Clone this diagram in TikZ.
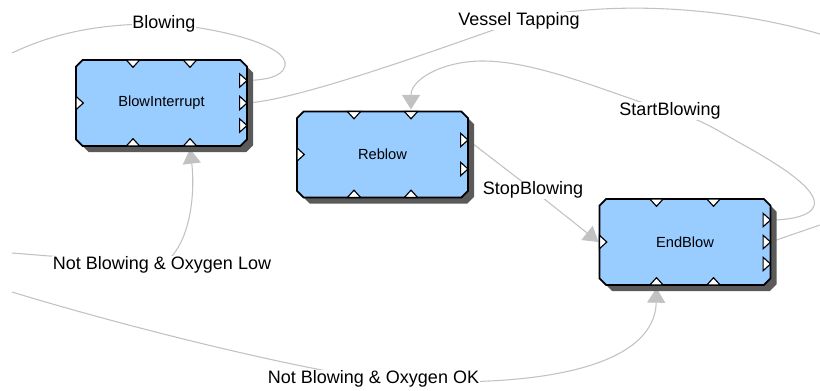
\documentclass[tikz,border=0pt]{standalone}
\usepackage{fontspec}
\setmainfont{Liberation Sans}
\usetikzlibrary{shapes.misc,shadows,calc,arrows.meta}
\definecolor{boxblue}{HTML}{99CCFF}
\definecolor{conn}{HTML}{C2C2C2}
\definecolor{shadowgray}{HTML}{5A5A5A}
\pgfdeclarelayer{back}
\pgfdeclarelayer{wires}
\pgfsetlayers{back,wires,main}
\tikzset{
  stbox/.style={chamfered rectangle, chamfered rectangle xsep=2.5pt,
    chamfered rectangle ysep=2.5pt, draw=black, line width=1.35pt,
    fill=boxblue, minimum width=128.25pt, minimum height=64.5pt,
    inner sep=0pt, outer sep=0pt, font=\fontsize{11}{13}\selectfont,
    drop shadow={shadow xshift=4.5pt, shadow yshift=-4.5pt,
      fill=shadowgray, opacity=1}},
  lbl/.style={fill=white, inner sep=0.6pt, font=\fontsize{13.5}{16}\selectfont},
  wire/.style={draw=conn, line width=0.8pt},
  arr/.style={-{Triangle[length=11pt,width=13.5pt,fill=conn]}, draw=conn, line width=0.8pt},
  portst/.style={fill=white, draw=black, line width=0.85pt, line join=miter},
  ptop/.pic={\path[portst] (-5pt,0pt) -- (0pt,-5.5pt) -- (5pt,0pt) -- cycle;},
  pbot/.pic={\path[portst] (-5pt,0pt) -- (0pt,5.5pt) -- (5pt,0pt) -- cycle;},
  pleft/.pic={\path[portst] (0pt,-5pt) -- (5.5pt,0pt) -- (0pt,5pt) -- cycle;},
  pright/.pic={\path[portst] (-5.5pt,-5pt) -- (0pt,0pt) -- (-5.5pt,5pt) -- cycle;}
}
\begin{document}
\begin{tikzpicture}[x=0.75pt,y=-0.75pt]
\useasboundingbox (0,0) rectangle (820,390);
\begin{pgfonlayer}{back}
  \fill[white] (0,0) rectangle (820,390);
\end{pgfonlayer}

% state boxes
\node[stbox] (bi) at (161.5,103) {BlowInterrupt};
\node[stbox] (rb) at (382.5,154.5) {Reblow};
\node[stbox] (eb) at (685,242) {EndBlow};

% ports
\foreach \b in {bi, rb, eb}{
  \pic at ($(\b.north)+(-28.5,0)$) {ptop};
  \pic at ($(\b.north)+(28.5,0)$) {ptop};
  \pic at ($(\b.south)+(-28.5,0)$) {pbot};
  \pic at ($(\b.south)+(28.5,0)$) {pbot};
  \pic at (\b.west) {pleft};
}
\pic at ($(bi.east)+(0,-22.5)$) {pright};
\pic at (bi.east) {pright};
\pic at ($(bi.east)+(0,22.5)$) {pright};
\pic at ($(rb.east)+(0,-14.5)$) {pright};
\pic at ($(rb.east)+(0,14.5)$) {pright};
\pic at ($(eb.east)+(0,-22)$) {pright};
\pic at (eb.east) {pright};
\pic at ($(eb.east)+(0,22)$) {pright};

% port coordinates
\coordinate (biR1) at ($(bi.east)+(0,-22.5)$);
\coordinate (biR2) at (bi.east);
\coordinate (biB2) at ($(bi.south)+(28.5,3)$);
\coordinate (rbT2) at ($(rb.north)+(28.5,-2)$);
\coordinate (rbR1) at ($(rb.east)+(0,-14.5)$);
\coordinate (ebL) at ($(eb.west)+(-1,0)$);
\coordinate (ebR1) at ($(eb.east)+(0,-22)$);
\coordinate (ebR2) at (eb.east);
\coordinate (ebB1) at ($(eb.south)+(-28.5,3)$);

% free ends
\coordinate (bl0) at (12,53);
\coordinate (vt1) at (820,34);
\coordinate (nl0) at (12,253);
\coordinate (no0) at (12,292);
\coordinate (er0) at (820,225);

% labels
\node[lbl] (blw) at (164,24) {Blowing};
\node[lbl] (vt) at (519,21) {Vessel Tapping};
\node[lbl] (sb) at (670,111) {StartBlowing};
\node[lbl] (sp) at (533,190) {StopBlowing};
\node[lbl] (nbl) at (162,265) {Not Blowing \& Oxygen Low};
\node[lbl] (nbo) at (373.5,379) {Not Blowing \& Oxygen OK};

\begin{pgfonlayer}{wires}
  % Blowing
  \draw[wire] (bl0) .. controls (50,35) and (95,23) .. (blw.center)
     .. controls (215,27) and (290,45) .. (285,66)
     .. controls (282,78) and (262,80) .. (biR1);
  % Vessel Tapping
  \draw[wire] (biR2) .. controls (300,100) and (450,45) .. (vt.center)
     .. controls (600,0) and (720,5) .. (vt1);
  % StartBlowing
  \draw[arr] (ebR1) .. controls (795,220) and (818,214) .. (814,200)
     .. controls (810,185) and (780,165) .. (740,143)
     .. controls (720,132) and (700,118) .. (sb.center)
     .. controls (620,98) and (540,60) .. (480,61)
     .. controls (440,62) and (411,80) .. (rbT2);
  % StopBlowing
  \draw[arr] (rbR1) -- (sp.center) -- (ebL);
  % Not Blowing & Oxygen Low
  \draw[arr] (nl0) -- (nbl.center) .. controls (192,245) and (195,190) .. (biB2);
  % Not Blowing & Oxygen OK
  \draw[arr] (no0) .. controls (120,325) and (280,365) .. (nbo.center)
     .. controls (560,392) and (655,360) .. (ebB1);
  % incoming from right
  \draw[wire] (er0) -- (ebR2);
\end{pgfonlayer}
\end{tikzpicture}
\end{document}
